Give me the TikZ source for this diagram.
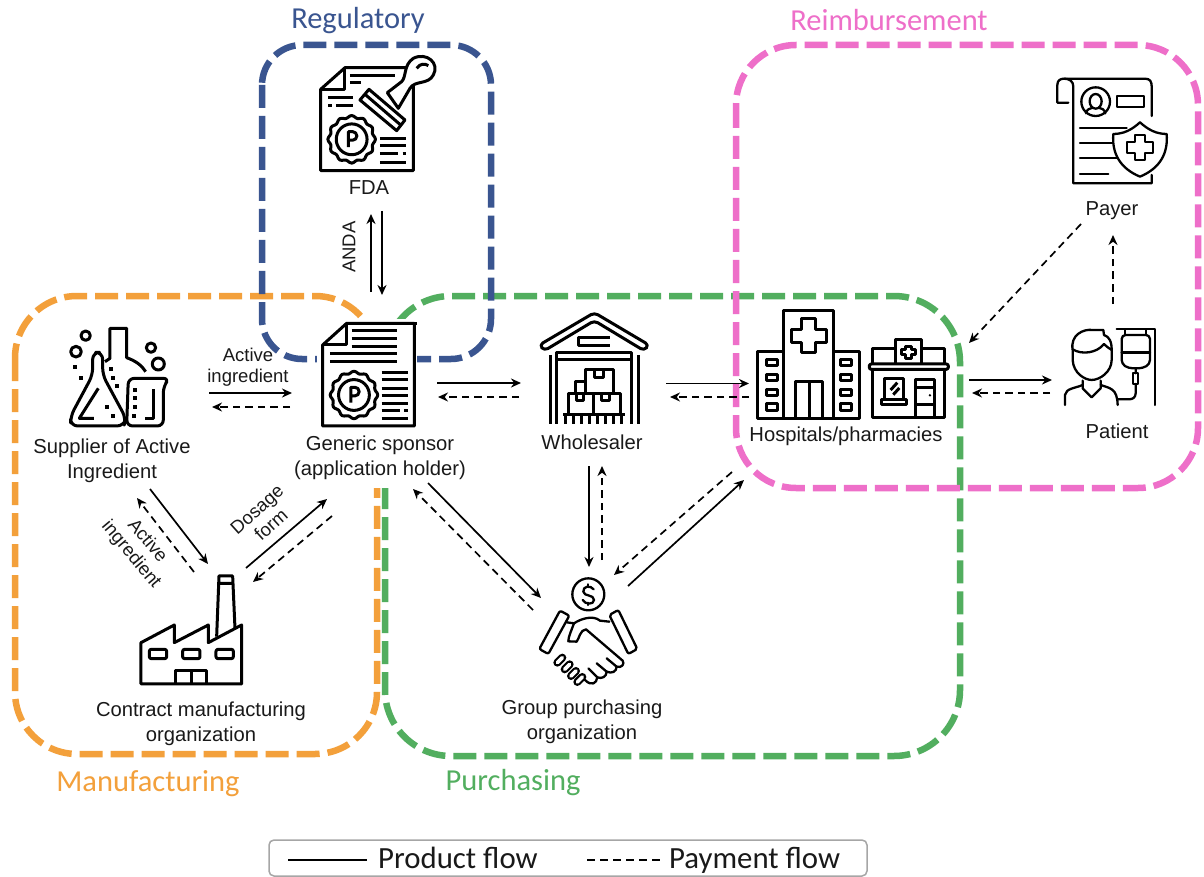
\documentclass[tikz,border=0pt]{standalone}
\usepackage{fontspec}
\setmainfont{Liberation Sans}
\newfontfamily\calibrifont{Carlito}
\usetikzlibrary{arrows.meta}
\definecolor{regblue}{HTML}{3A5590}
\definecolor{manorange}{HTML}{F3A03B}
\definecolor{purgreen}{HTML}{52AE5F}
\definecolor{reipink}{HTML}{EE6FC9}
\newcommand{\rosette}[3]{%
  \draw[icon,fill=white] plot[smooth cycle,domain=0:355,samples=72] ({#1+#3*(1+.05*cos(12*\x))*cos(\x)},{#2+#3*(1+.05*cos(12*\x))*sin(\x)});
  \draw[icon] (#1,#2) circle[radius=#3*.68];
  \draw[icon] (#1-#3*.14,#2+#3*.34) -- (#1-#3*.14,#2-#3*.34) -- (#1+#3*.04,#2-#3*.34) arc[start angle=-90,end angle=90,radius=#3*.19] -- (#1-#3*.14,#2+#3*.04);
}
\tikzset{
  x=1pt,y=-1pt,
  icon/.style={line width=3pt,line join=round,line cap=butt,draw=black},
  thinicon/.style={line width=2.3pt,line join=round,line cap=round,draw=black},
  frame/.style={line width=6.5pt,dash pattern=on 23pt off 8pt},
  lab/.style={font=\fontsize{20.2}{25}\selectfont,align=center,inner sep=0pt,text=black!90},
  smalllab/.style={lab,font=\fontsize{18.5}{21}\selectfont},
  grouplab/.style={font=\calibrifont\fontsize{30.5}{34}\selectfont,inner sep=0pt},
  legendlab/.style={font=\calibrifont\fontsize{30.8}{34}\selectfont,inner sep=0pt,text=black!90},
  solidflow/.style={line width=1.7pt,-{Stealth[length=10pt,width=9pt]}},
  payflow/.style={line width=1.7pt,dash pattern=on 7.5pt off 5pt,-{Stealth[length=10pt,width=9pt]}},
}
\begin{document}
\begin{tikzpicture}
\useasboundingbox[fill=white] (0,0) rectangle (1204,877);
% ---- group frames
\draw[frame,purgreen,rounded corners=66pt] (385,296) rectangle (960,756);
\draw[frame,manorange,rounded corners=62pt] (15,296) rectangle (377,754);
\draw[frame,regblue,rounded corners=40pt] (262,45) rectangle (491,359);
\draw[frame,reipink,rounded corners=60pt] (736,45) rectangle (1198,488);
\fill[white] (317,319) rectangle (417,488);
% ---- group titles
\node[grouplab,text=regblue] (tReg) at (358,21) {Regulatory};
\node[grouplab,text=reipink] (tRei) at (889,20) {Reimbursement};
\node[grouplab,text=manorange] (tMan) at (148,784) {Manufacturing};
\node[grouplab,text=purgreen] (tPur) at (513,783) {Purchasing};
% ---- FDA icon
\begin{scope}[shift={(250,0)},x=.3333pt,y=-.3333pt]
\draw[icon,fill=white] (212,268) -- (285,203) -- (490,203) -- (490,512) -- (212,512) -- cycle;
\draw[icon] (285,203) -- (285,268) -- (212,268);
\draw[icon] (300,228) -- (435,228) (300,247) -- (332,247) (235,293) -- (310,293) (235,316) -- (245,316) (258,316) -- (310,316);
\rosette{305}{418}{68}
\draw[icon] (390,415) -- (468,415) (390,438) -- (468,438) (390,462) -- (445,462) (458,462) -- (468,462) (390,487) -- (468,487);
\draw[icon,fill=white] (412,278) -- (455,245) .. controls (470,230) and (460,195) .. (490,175) .. controls (530,155) and (570,190) .. (550,225) .. controls (535,255) and (495,240) .. (480,265) -- (445,325) -- cycle;
\draw[icon] (500,205) .. controls (510,190) and (525,190) .. (535,197);
\draw[icon,fill=white] (330,300) -- (357,268) -- (465,360) -- (440,392) -- cycle;
\draw[icon] (345,283) -- (452,375);
\end{scope}
% ---- Generic sponsor icon
\begin{scope}[shift={(0,290)},x=.3333pt,y=-.3333pt]
\draw[icon,fill=white] (968,165) -- (1040,100) -- (1243,100) -- (1243,408) -- (968,408) -- cycle;
\draw[icon] (1040,100) -- (1250,100);
\draw[icon] (1040,100) -- (1040,165) -- (968,165);
\draw[icon] (1055,123) -- (1190,123) (1055,145) -- (1190,145) (1055,170) -- (1190,170) (990,192) -- (1190,192) (990,215) -- (1190,215);
\rosette{1062}{315}{68}
\draw[icon] (1145,247) -- (1225,247) (1145,270) -- (1225,270) (1145,295) -- (1225,295) (1145,317) -- (1225,317) (1145,340) -- (1225,340) (1145,362) -- (1200,362) (1212,362) -- (1225,362) (1145,385) -- (1225,385);
% flasks
\draw[icon] (315,215) -- (330,205) -- (330,115) -- (380,115) -- (380,203) .. controls (405,212) and (425,225) .. (437,245);
\draw[icon,fill=white,rounded corners=7pt] (278,187) -- (308,187) -- (308,255) -- (378,385) -- (372,408) -- (212,408) -- (212,378) -- (278,255) -- cycle;
\draw[icon] (295,295) -- (238,385) -- (282,385);
\draw[icon,fill=white,rounded corners=6pt] (385,265) -- (508,265) -- (490,290) -- (490,408) -- (380,408) -- cycle;
\draw[icon] (462,298) -- (462,385) -- (435,385);
\foreach \a/\b/\c in {228/185/16,257/137/14,453/173/14,475/222/18}{\draw[icon] (\a,\b) circle[radius=\c];}
\foreach \a/\b in {225/232,243/263,333/238,338/263,350/288,320/352,338/377,405/300,405/325,405/350,402/378}{\fill (\a-6,\b-6) rectangle (\a+6,\b+6);}
\end{scope}
% ---- Factory icon
\begin{scope}[shift={(80,470)},x=.3333pt,y=-.3333pt]
\draw[icon] (410,500) -- (417,318) -- (458,318) -- (465,475) (415,340) -- (459,340);
\draw[icon,fill=white] (183,642) -- (183,518) -- (283,465) -- (283,518) -- (385,465) -- (385,518) -- (485,465) -- (485,642) -- cycle;
\foreach \a in {208,308,408}{\draw[icon,rounded corners=2pt] (\a,538) rectangle (\a+52,566);}
\draw[icon] (288,642) -- (288,602) -- (380,602) -- (380,642) (334,602) -- (334,642);
\end{scope}
% ---- Warehouse + hospital + pharmacy icons
\begin{scope}[shift={(500,290)},x=.3333pt,y=-.3333pt]
\draw[icon,rounded corners=4pt] (118,165) -- (283,68) -- (447,165) -- (432,182) -- (283,92) -- (133,182) -- cycle;
\draw[icon] (330,143) -- (235,143) -- (235,168) -- (330,168);
\draw[icon] (150,195) -- (150,402) (415,195) -- (415,402);
\draw[icon] (170,402) -- (170,188) -- (395,188) -- (395,402) (170,210) -- (395,210);
\draw[icon] (190,375) -- (375,375);
\foreach \a in {197,220,245,268,292,316,340,365}{\draw[icon] (\a,375) -- (\a,402);}
\draw[icon] (205,375) -- (205,310) -- (362,310) -- (362,375) (282,310) -- (282,375);
\draw[icon] (258,310) -- (258,238) -- (340,238) -- (340,310);
\draw[icon] (258,275) -- (225,275) -- (225,310);
\draw[icon] (230,310) -- (230,332) -- (252,332) -- (252,310) (305,310) -- (305,332) -- (330,332) -- (330,310) (285,238) -- (285,262) -- (310,262) -- (310,238);
% hospital
\draw[icon,fill=white] (852,387) -- (852,63) -- (1000,63) -- (1000,387) -- cycle;
\draw[icon,fill=white] (772,387) -- (772,185) -- (852,185) -- (852,387) -- cycle;
\draw[icon,fill=white] (1000,387) -- (1000,185) -- (1080,185) -- (1080,387) -- cycle;
\draw[icon] (905,87) -- (948,87) -- (948,118) -- (980,118) -- (980,158) -- (948,158) -- (948,188) -- (905,188) -- (905,158) -- (875,158) -- (875,118) -- (905,118) -- cycle;
\draw[icon] (888,387) -- (888,275) -- (968,275) -- (968,387);
\draw[icon,line width=3.4pt] (928,275) -- (928,387);
\foreach \b in {208,253,298,342}{\draw[icon] (800,\b) rectangle (833,\b+20);\draw[icon] (1022,\b) rectangle (1055,\b+20);}
% pharmacy
\draw[icon,fill=white] (1118,238) -- (1118,382) -- (1335,382) -- (1335,238);
\draw[icon] (1118,225) -- (1118,175) -- (1188,175) (1265,175) -- (1335,175) -- (1335,225);
\draw[icon,fill=white] (1188,225) -- (1188,148) -- (1265,148) -- (1265,225);
\draw[icon] (1218,170) -- (1235,170) -- (1235,178) -- (1248,178) -- (1248,194) -- (1235,194) -- (1235,206) -- (1218,206) -- (1218,194) -- (1205,194) -- (1205,178) -- (1218,178) -- cycle;
\draw[icon,fill=white,rounded corners=2pt] (1108,222) rectangle (1345,238);
\draw[icon] (1155,325) -- (1155,265) -- (1212,265) -- (1212,325);
\draw[icon] (1172,300) -- (1192,278) (1180,314) -- (1198,294);
\draw[icon] (1145,328) rectangle (1220,345);
\draw[icon] (1248,382) -- (1248,268) -- (1305,268) -- (1305,382) (1248,345) -- (1305,345) (1248,294) -- (1305,294);
\fill (1290,316) circle[radius=4];
\end{scope}
% ---- Payer + patient icons
\begin{scope}[shift={(960,60)},x=.3333pt,y=-.3333pt]
\draw[thinicon] (325,128) -- (292,128) -- (292,75) .. controls (292,62) and (300,56) .. (312,56) .. controls (330,56) and (340,65) .. (340,80) -- (340,370) -- (575,370) -- (575,345);
\draw[thinicon] (312,56) -- (555,56) .. controls (570,56) and (575,65) .. (575,78) -- (575,168);
\draw[thinicon] (407,125) circle[radius=43];
\draw[thinicon] (407,124) ellipse[x radius=18,y radius=22];
\draw[thinicon] (378,160) .. controls (380,148) and (390,145) .. (398,143) (416,143) .. controls (425,145) and (434,148) .. (436,160);
\draw[thinicon] (472,108) rectangle (552,142);
\draw[thinicon] (360,203) -- (500,203) (360,248) -- (460,248) (360,295) -- (470,295) (360,343) -- (445,343);
\draw[thinicon,fill=white] (540,187) .. controls (565,210) and (590,222) .. (620,222) .. controls (625,280) and (600,325) .. (540,350) .. controls (480,325) and (455,280) .. (460,222) .. controls (490,222) and (515,210) .. (540,187) -- cycle;
\draw[thinicon] (524,224) -- (556,224) -- (556,246) -- (578,246) -- (578,278) -- (556,278) -- (556,300) -- (524,300) -- (524,278) -- (502,278) -- (502,246) -- (524,246) -- cycle;
% patient
\draw[thinicon] (338,870) .. controls (330,825) and (370,806) .. (398,810) -- (430,810) -- (432,825) .. controls (448,830) and (456,845) .. (455,875) -- (455,900) .. controls (455,935) and (420,960) .. (395,960) .. controls (375,960) and (340,940) .. (338,900) -- cycle;
\draw[thinicon] (338,868) .. controls (365,885) and (410,880) .. (432,852) .. controls (440,860) and (448,866) .. (455,870);
\draw[thinicon] (368,962) -- (368,985) -- (395,1012) -- (422,985) -- (422,962);
\draw[thinicon] (315,1035) -- (315,1005) .. controls (318,985) and (345,985) .. (368,975) (422,975) .. controls (450,985) and (472,985) .. (473,1035);
\draw[thinicon] (470,808) -- (585,808) -- (585,1035);
\draw[thinicon] (495,810) -- (495,825) (558,810) -- (558,825);
\draw[thinicon,rounded corners=4pt] (485,825) -- (570,825) -- (570,912) -- (548,925) -- (506,925) -- (485,912) -- cycle;
\draw[thinicon] (485,878) -- (570,878);
\draw[thinicon] (518,940) rectangle (535,972);
\draw[thinicon] (527,925) -- (527,940) (527,972) -- (527,1000) .. controls (527,1012) and (518,1018) .. (508,1018) -- (473,1018);
\end{scope}
% ---- Handshake icon
\begin{scope}[shift={(400,470)},x=.3333pt,y=-.3333pt]
\draw[thinicon] (565,373) circle[radius=48];
\draw[thinicon] (581,358) .. controls (572,345) and (548,348) .. (550,365) .. controls (552,381) and (582,372) .. (582,390) .. controls (582,405) and (555,404) .. (548,390);
\draw[thinicon] (565,343) -- (565,350) (565,398) -- (565,405);
\draw[thinicon,rounded corners=2pt] (480,422) -- (508,437) -- (445,552) -- (418,537) -- cycle;
\draw[thinicon,rounded corners=2pt] (655,420) -- (628,435) -- (685,552) -- (712,537) -- cycle;
\draw[thinicon] (500,457) -- (522,460) .. controls (545,445) and (580,435) .. (600,452) -- (628,455);
\draw[thinicon] (522,460) .. controls (515,480) and (505,500) .. (505,514) -- (530,515) .. controls (538,505) and (540,480) .. (558,478) -- (668,572) .. controls (675,582) and (665,595) .. (650,590) .. controls (650,605) and (635,612) .. (620,605) .. controls (620,620) and (605,628) .. (592,622) .. controls (590,640) and (575,650) .. (555,630);
\draw[thinicon] (620,565) -- (650,590) (590,580) -- (620,605) (565,595) -- (592,622);
\foreach \a/\b in {478/572,500/592,519/612,538/630}{
  \draw[line width=8pt,line cap=round,black] (\a+9,\b-9) -- (\a-6,\b+6);
  \draw[line width=3.6pt,line cap=round,white] (\a+9,\b-9) -- (\a-6,\b+6);
}
\end{scope}
% ---- Labels
\node[lab] (fda) at (369,187.5) {FDA};
\node[lab] (supplier) at (112,461) {Supplier of Active\\Ingredient};
\node[lab] (sponsor) at (380,458) {Generic sponsor\\(application holder)};
\node[lab] (wholesaler) at (592,442.5) {Wholesaler};
\node[lab] (hospitals) at (846,436.5) {Hospitals/pharmacies};
\node[lab] (payer) at (1112,211) {Payer};
\node[lab] (patient) at (1117,431) {Patient};
\node[lab] (cmo) at (201,724) {Contract manufacturing\\organization};
\node[lab] (gpo) at (582,722) {Group purchasing\\organization};
\node[smalllab] (lActive) at (248,367) {Active\\ingredient};
\node[smalllab,rotate=90] (lAnda) at (349,247) {ANDA};
\node[smalllab,rotate=-50] (lActive2) at (139,548) {Active\\ingredient};
\node[smalllab,rotate=42] (lDosage) at (264,517) {Dosage\\form};
% ---- Connector ends
\coordinate (aiA) at (209,393); \coordinate (aiB) at (292,393);
\coordinate (apA) at (290,407); \coordinate (apB) at (212,407);
\coordinate (swA) at (437,383); \coordinate (swB) at (521,383);
\coordinate (wsA) at (519,397); \coordinate (wsB) at (438,397);
\coordinate (whA) at (666,383.5); \coordinate (whB) at (749,383.5);
\coordinate (hwA) at (749,397); \coordinate (hwB) at (670,397);
\coordinate (hpA) at (969,380); \coordinate (hpB) at (1052,380);
\coordinate (phA) at (1050,393); \coordinate (phB) at (972,393);
\coordinate (payHA) at (1081,224); \coordinate (payHB) at (969,343);
\coordinate (patPA) at (1113,304); \coordinate (patPB) at (1113,235);
\coordinate (anUA) at (371,292); \coordinate (anUB) at (371,214);
\coordinate (anDA) at (382,211); \coordinate (anDB) at (382,295);
\coordinate (scA) at (150,489); \coordinate (scB) at (208,564);
\coordinate (csA) at (194,572); \coordinate (csB) at (137,498);
\coordinate (dfA) at (246,568); \coordinate (dfB) at (327,499);
\coordinate (fdA) at (332,516); \coordinate (fdB) at (253,582);
\coordinate (sgA) at (428,483); \coordinate (sgB) at (541,598);
\coordinate (gsA) at (533,610); \coordinate (gsB) at (413,489);
\coordinate (wgA) at (589,466); \coordinate (wgB) at (589,567);
\coordinate (gwA) at (602,560); \coordinate (gwB) at (602,466);
\coordinate (ghA) at (628,586); \coordinate (ghB) at (744,480);
\coordinate (hgA) at (732,472); \coordinate (hgB) at (614,575);
% ---- Product flows
\foreach \a/\b in {aiA/aiB,swA/swB,whA/whB,hpA/hpB,anUA/anUB,anDA/anDB,scA/scB,dfA/dfB,sgA/sgB,wgA/wgB,ghA/ghB}{\draw[solidflow] (\a) -- (\b);}
% ---- Payment flows
\foreach \a/\b in {apA/apB,wsA/wsB,hwA/hwB,phA/phB,payHA/payHB,patPA/patPB,csA/csB,fdA/fdB,gsA/gsB,gwA/gwB,hgA/hgB}{\draw[payflow] (\a) -- (\b);}
% ---- Legend
\draw[line width=1.5pt,draw=black!35,fill=white,rounded corners=5pt] (269,840) rectangle (867,876);
\coordinate (lgA) at (288,860); \coordinate (lgB) at (367,860);
\coordinate (lgC) at (587,860); \coordinate (lgD) at (660,860);
\draw[line width=1.5pt] (lgA) -- (lgB);
\draw[line width=1.5pt,dash pattern=on 8pt off 5pt] (lgC) -- (lgD);
\node[legendlab,anchor=base west] (lgProduct) at (378,868) {Product flow};
\node[legendlab,anchor=base west] (lgPayment) at (669,868) {Payment flow};
\end{tikzpicture}
\end{document}
